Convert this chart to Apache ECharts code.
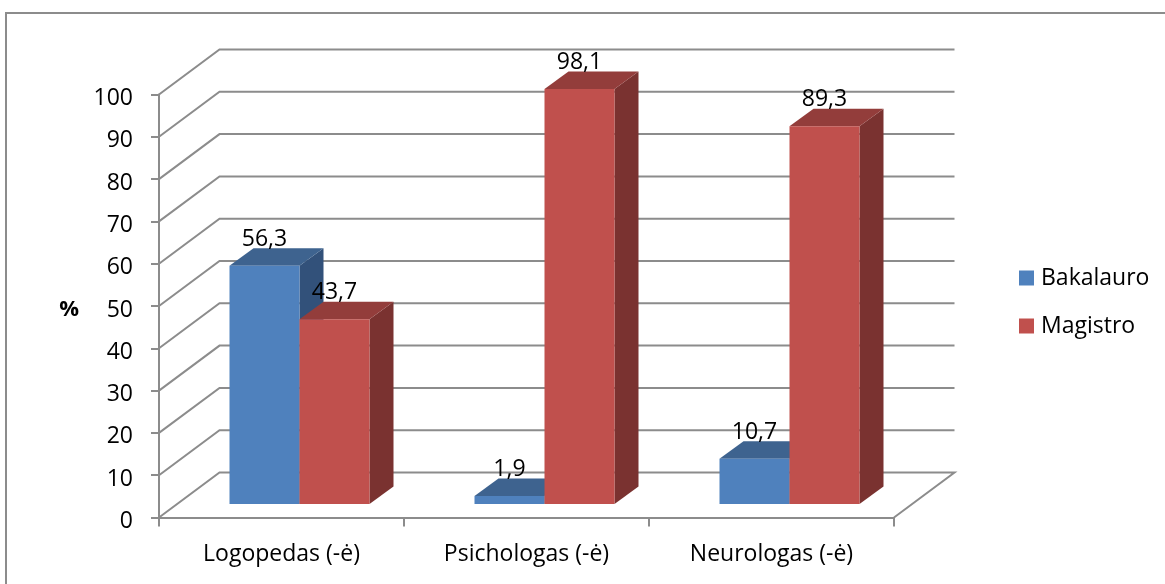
<!DOCTYPE html>
<html>
<head>
<meta charset="utf-8">
<style>html,body{margin:0;padding:0;background:#fff}#chart{width:1165px;height:584px}</style>
<script src="https://cdn.jsdelivr.net/npm/echarts@6/dist/echarts.min.js"></script>
</head>
<body>
<div id="chart"></div>
<script>
// Share of each speciality holding a bachelor's or master's degree, in percent
const categories = ['Logopedas (-ė)', 'Psichologas (-ė)', 'Neurologas (-ė)'];
const bakalauro = [56.3, 1.9, 10.7];
const magistro = [43.7, 98.1, 89.3];
const valueTicks = [0, 10, 20, 30, 40, 50, 60, 70, 80, 90, 100];

// Oblique projection of the box: how far the back wall sits from the front plane
const WALL_DX = 60.5, WALL_DY = -45;
// Bars stand inside the box: offset of the front face and the depth of each bar
const BAR_DX = 18, BAR_DY = -13.5;
const DEPTH_DX = 24, DEPTH_DY = -17.5;
const BAR_SHARE = 2 / 7;
const FONT = '"Open Sans", Lato, sans-serif';
const FONT_SIZE = 23;
const LINE = '#8c8c8c';

function wallItem(params, api) {
  const cs = params.coordSys;
  const y = api.coord([0, api.value(1)])[1];
  const left = cs.x, right = cs.x + cs.width;
  const pts = [[left, y], [left + WALL_DX, y + WALL_DY], [right + WALL_DX, y + WALL_DY]];
  if (api.value(1) === 0) pts.push([right, y]);
  return {
    type: 'polyline',
    shape: { points: pts },
    style: { stroke: LINE, lineWidth: 2, fill: null }
  };
}

function barItem(side, front, top, dark) {
  return function (params, api) {
    const value = api.value(1);
    const p = api.coord([api.value(0), value]);
    const base = api.coord([api.value(0), 0])[1] + BAR_DY;
    const w = api.size([1, 0])[0] * BAR_SHARE;
    const x0 = p[0] + BAR_DX + (side < 0 ? -w : 0);
    const x1 = x0 + w;
    const yt = p[1] + BAR_DY;
    return {
      type: 'group',
      children: [
        { type: 'polygon', shape: { points: [[x1, yt], [x1 + DEPTH_DX, yt + DEPTH_DY], [x1 + DEPTH_DX, base + DEPTH_DY], [x1, base]] }, style: { fill: dark } },
        { type: 'polygon', shape: { points: [[x0, yt], [x0 + DEPTH_DX, yt + DEPTH_DY], [x1 + DEPTH_DX, yt + DEPTH_DY], [x1, yt]] }, style: { fill: top } },
        { type: 'rect', shape: { x: x0, y: yt, width: w, height: base - yt }, style: { fill: front } },
        { type: 'text', z2: 100, style: {
            x: (x0 + x1) / 2, y: yt - 26.5, text: String(value).replace('.', ','),
            align: 'center', verticalAlign: 'middle', fill: '#000', font: FONT_SIZE + 'px ' + FONT } }
      ]
    };
  };
}

function barSeries(name, values, side, front, top, dark) {
  return {
    type: 'custom', name: name, clip: false, silent: true, animation: false,
    itemStyle: { color: front },
    encode: { x: 0, y: 1 },
    data: values.map((v, i) => [i, v]),
    renderItem: barItem(side, front, top, dark)
  };
}

const chart = echarts.init(document.getElementById('chart'), null, { renderer: 'canvas' });
chart.setOption({
  animation: false,
  backgroundColor: '#fff',
  textStyle: { fontFamily: FONT },
  graphic: [
    { type: 'polyline', silent: true, shape: { points: [[6, 584], [6, 13], [1165, 13]] }, style: { stroke: LINE, lineWidth: 2, fill: null } }
  ],
  legend: {
    data: ['Bakalauro', 'Magistro'], orient: 'vertical', left: 1019, top: 264, padding: 0,
    icon: 'rect', itemWidth: 15, itemHeight: 15, itemGap: 20,
    selectedMode: false,
    textStyle: { fontFamily: FONT, fontSize: FONT_SIZE, color: '#000', padding: [0, 0, 0, 2], lineHeight: 28 }
  },
  grid: { left: 159, right: 271, top: 94.5, bottom: 66.5 },
  xAxis: {
    type: 'category', data: categories, boundaryGap: true,
    axisLine: { lineStyle: { color: LINE, width: 2 } },
    axisTick: { show: true, alignWithLabel: false, length: 9, lineStyle: { color: LINE, width: 2 } },
    axisLabel: { color: '#000', fontSize: FONT_SIZE, fontFamily: FONT, margin: 25, interval: 0 }
  },
  yAxis: {
    type: 'value', min: 0, max: 100, interval: 10,
    name: '%', nameLocation: 'middle', nameRotate: 0, nameGap: 80,
    nameTextStyle: { color: '#000', fontSize: 22, fontWeight: 700, fontFamily: FONT, verticalAlign: 'top', lineHeight: 8 },
    axisLine: { show: true, lineStyle: { color: LINE, width: 2 } },
    axisTick: { show: true, length: 8, lineStyle: { color: LINE, width: 2 } },
    axisLabel: { color: '#000', fontSize: FONT_SIZE, fontFamily: FONT, margin: 26, verticalAlign: 'top', lineHeight: 8 },
    splitLine: { show: false }
  },
  series: [
    {
      type: 'custom', name: 'wall', clip: false, silent: true, animation: false,
      encode: { x: 0, y: 1 }, z: 1,
      data: valueTicks.map(v => [0, v]),
      renderItem: wallItem
    },
    barSeries('Bakalauro', bakalauro, -1, '#4F81BD', '#3E638F', '#32517A'),
    barSeries('Magistro', magistro, 1, '#C0504D', '#933D3B', '#7A3230')
  ]
});
</script>
</body>
</html>
